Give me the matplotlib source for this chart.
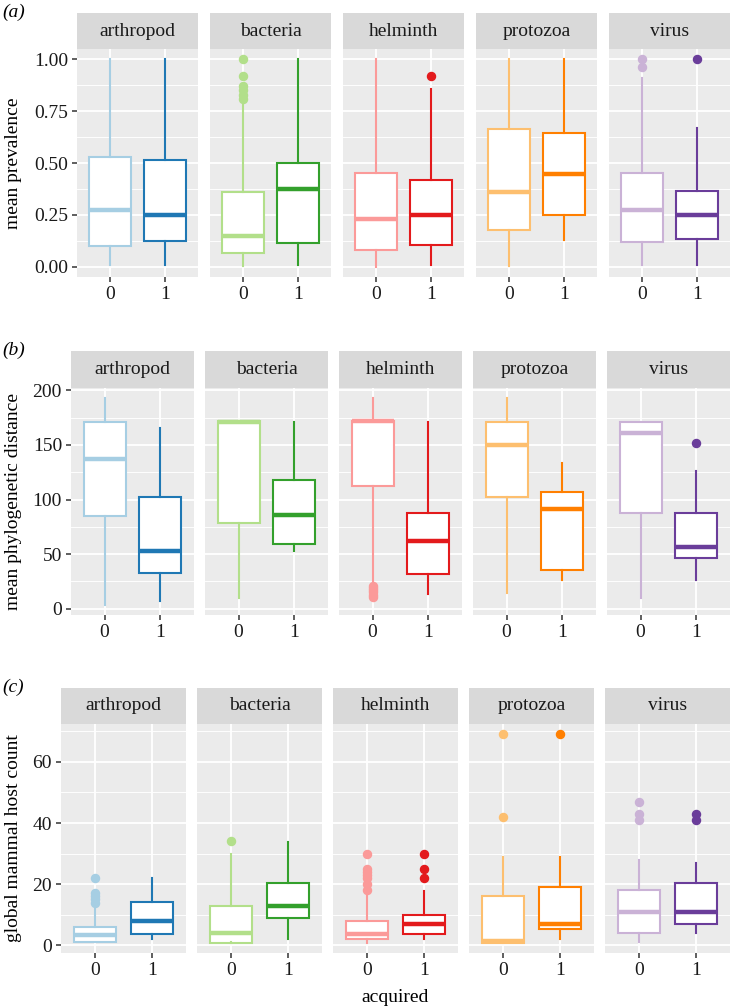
import matplotlib
matplotlib.use('Agg')
import matplotlib.pyplot as plt

plt.rcParams['font.family'] = ['Liberation Serif', 'DejaVu Serif']
plt.rcParams['font.size'] = 14

groups = ['arthropod', 'bacteria', 'helminth', 'protozoa', 'virus']
acquired = ['0', '1']
light = ['#A6CEE3', '#B2DF8A', '#FB9A99', '#FDBF6F', '#CAB2D6']
dark = ['#1F78B4', '#33A02C', '#E31A1C', '#FF7F00', '#6A3D9A']

# order of every list: arthropod 0, arthropod 1, bacteria 0, bacteria 1, ...
# (a) mean prevalence
prev_lo = [0.008, 0.008, 0.005, 0.008, 0.0, 0.008, 0.005, 0.127, 0.008, 0.008]
prev_q1 = [0.10, 0.124, 0.068, 0.113, 0.08, 0.106, 0.177, 0.248, 0.12, 0.132]
prev_med = [0.272, 0.251, 0.148, 0.373, 0.23, 0.248, 0.362, 0.447, 0.273, 0.251]
prev_q3 = [0.529, 0.514, 0.362, 0.502, 0.452, 0.416, 0.662, 0.643, 0.45, 0.365]
prev_hi = [1.0, 1.0, 0.80, 1.0, 1.0, 0.855, 1.0, 1.0, 0.911, 0.667]
prev_out = [[], [], [0.81, 0.83, 0.85, 0.87, 0.92, 1.0], [], [], [0.921], [], [],
            [0.965, 1.0], [1.0]]

# (b) mean phylogenetic distance
phylo_lo = [3.7, 7.0, 9.7, 53.3, 23.0, 13.1, 14.3, 25.9, 9.7, 26.5]
phylo_q1 = [84.6, 32.3, 78.8, 59.4, 112.3, 31.4, 102.3, 35.6, 87.4, 46.3]
phylo_med = [137.3, 52.7, 171.0, 85.5, 171.5, 61.8, 149.8, 91.0, 161.0, 56.6]
phylo_q3 = [171.4, 102.3, 172.0, 117.8, 172.0, 87.7, 171.4, 106.8, 171.4, 87.7]
phylo_hi = [192.7, 165.9, 172.0, 171.0, 192.7, 171.0, 192.7, 133.9, 171.4, 125.7]
phylo_out = [[], [], [], [], [11.0, 13.0, 15.0, 17.0, 19.0, 21.0], [], [], [],
             [], [151.3]]

# (c) global mammal host count
host_lo = [1.0, 2.2, 1.0, 2.2, 0.9, 2.2, 1.0, 2.2, 1.1, 4.2]
host_q1 = [1.1, 3.7, 0.9, 9.1, 2.0, 3.8, 0.9, 5.2, 3.9, 6.9]
host_med = [3.3, 8.1, 3.9, 13.0, 3.7, 7.0, 1.5, 7.0, 10.9, 10.9]
host_q3 = [6.0, 14.2, 12.9, 20.5, 8.0, 10.0, 16.0, 19.1, 18.1, 20.5]
host_hi = [12.0, 21.9, 30.0, 33.9, 17.0, 17.9, 28.9, 28.9, 28.0, 26.9]
host_out = [[14, 15, 16, 17, 22], [], [34], [], [18, 20, 22, 23, 24, 25, 30],
            [22, 25, 30], [42, 69], [69], [41, 43, 47], [41, 43]]

panels = [
    ('(a)', 'mean prevalence', prev_lo, prev_q1, prev_med, prev_q3, prev_hi, prev_out,
     (-0.05, 1.05), [0, 0.25, 0.5, 0.75, 1.0], ['0.00', '0.25', '0.50', '0.75', '1.00'],
     [0.125, 0.375, 0.625, 0.875]),
    ('(b)', 'mean phylogenetic distance', phylo_lo, phylo_q1, phylo_med, phylo_q3, phylo_hi,
     phylo_out, (-5.7, 202.1), [0, 50, 100, 150, 200], ['0', '50', '100', '150', '200'],
     [25, 75, 125, 175]),
    ('(c)', 'global mammal host count', host_lo, host_q1, host_med, host_q3, host_hi,
     host_out, (-2.5, 72.4), [0, 20, 40, 60], ['0', '20', '40', '60'], [10, 30, 50, 70]),
]

# pixel layout for each row: panel left, step, width, panel top, panel bottom, strip top
layout = [(77, 133, 121, 49, 277, 13),
          (71, 134, 123, 388, 615, 351),
          (61, 136, 125, 724, 953, 688)]

W, H = 730, 1007
fig = plt.figure(figsize=(W / 100, H / 100), dpi=100)


def px_rect(x0, y0, x1, y1):
    return [x0 / W, 1 - y1 / H, (x1 - x0) / W, (y1 - y0) / H]


for r, (tag, ylab, lo, q1, med, q3, hi, out, ylim, yt, ytl, ymin) in enumerate(panels):
    left, step, width, top, bottom, stop = layout[r]
    for g, name in enumerate(groups):
        x0 = left + g * step
        ax = fig.add_axes(px_rect(x0, top, x0 + width, bottom))
        ax.set_facecolor('#EBEBEB')
        for s in ax.spines.values():
            s.set_visible(False)
        for m in yt:
            ax.axhline(m, color='white', lw=1.3, zorder=1)
        for m in ymin:
            ax.axhline(m, color='white', lw=0.65, zorder=1)
        for xv in (1, 2):
            ax.axvline(xv, color='white', lw=1.3, zorder=1)

        for k in range(2):
            i = g * 2 + k
            col = light[g] if k == 0 else dark[g]
            stats = [dict(med=med[i], q1=q1[i], q3=q3[i], whislo=lo[i], whishi=hi[i],
                          fliers=out[i])]
            ax.bxp(stats, positions=[k + 1], widths=0.75, patch_artist=True,
                   showcaps=False, manage_ticks=False,
                   boxprops=dict(facecolor='white', edgecolor=col, linewidth=1.5),
                   whiskerprops=dict(color=col, linewidth=1.5),
                   medianprops=dict(color=col, linewidth=3.2, solid_capstyle='butt'),
                   flierprops=dict(marker='o', markerfacecolor=col, markeredgecolor=col,
                                   markersize=5.8, linestyle='none'),
                   zorder=3)

        ax.set_xlim(0.4, 2.6)
        ax.set_ylim(*ylim)
        ax.set_xticks([1, 2])
        ax.set_xticklabels(acquired)
        ax.set_yticks(yt)
        ax.tick_params(colors='#333333', labelcolor='#1A1A1A', length=3.5, width=1.1,
                       pad=3)
        if g == 0:
            ax.set_yticklabels(ytl)
        else:
            ax.tick_params(axis='y', left=False, labelleft=False)

        sax = fig.add_axes(px_rect(x0, stop, x0 + width, top))
        sax.set_facecolor('#D9D9D9')
        sax.set_xticks([])
        sax.set_yticks([])
        for s in sax.spines.values():
            s.set_visible(False)
        sax.text(0.5, 0.5, name, ha='center', va='center', color='#1A1A1A',
                 fontsize=14, transform=sax.transAxes)

    fig.text(2 / W, 1 - (stop - 1) / H, tag, fontstyle='italic', fontsize=14,
             ha='left', va='center')
    fig.text(14 / W, 1 - ((top + bottom) / 2) / H, ylab, rotation=90, fontsize=14,
             ha='center', va='center')

fig.text(395 / W, 1 - 997 / H, 'acquired', fontsize=14, ha='center', va='center')

fig.savefig('out.png', dpi=100)
